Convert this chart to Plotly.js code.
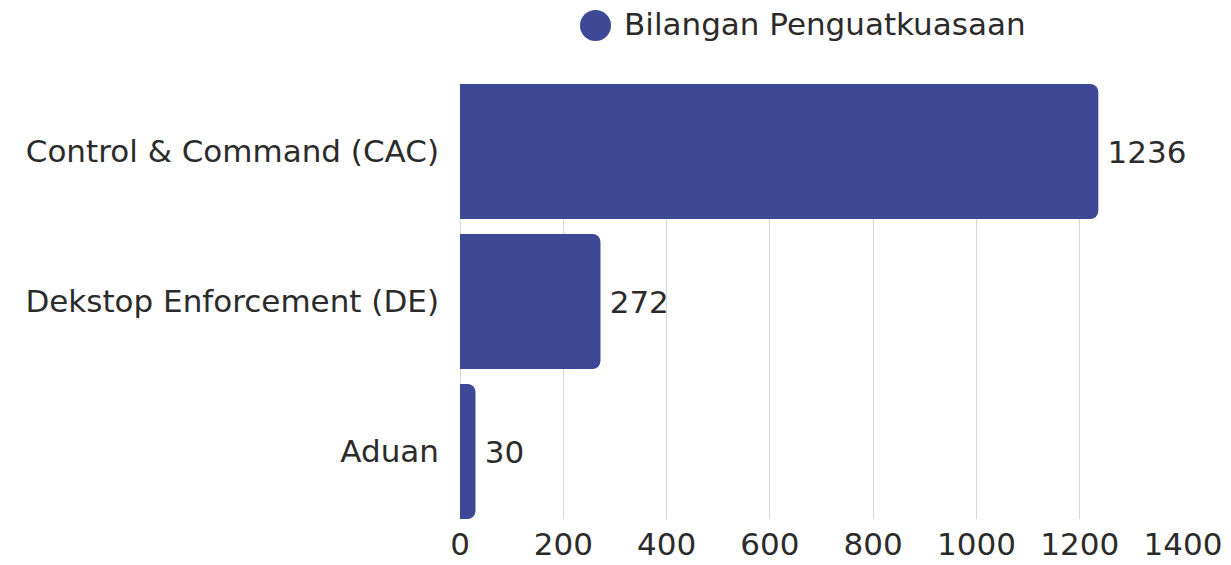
<!DOCTYPE html>
<html>
<head>
<meta charset="utf-8">
<script src="https://cdn.plot.ly/plotly-3.0.1.min.js"></script>
<style>html,body{margin:0;padding:0;background:#fff;}#chart{width:1231px;height:565px;}</style>
</head>
<body>
<div id="chart"></div>
<script>
const categories = ["Control & Command (CAC)", "Dekstop Enforcement (DE)", "Aduan"];
const values = [1236, 272, 30];
const seriesName = "Bilangan Penguatkuasaan";
const xTicks = [0, 200, 400, 600, 800, 1000, 1200, 1400];

const FONT = "DejaVu Sans, sans-serif";
const TXT = "#2b2b2b";
const BAR = "#3d4896";
const FS = 31;

const trace = {
  type: "bar",
  orientation: "h",
  y: categories,
  x: values,
  name: seriesName,
  marker: {color: BAR},
  texttemplate: "\u2009%{x}",
  textposition: "outside",
  cliponaxis: false,
  outsidetextfont: {family: FONT, size: FS, color: TXT},
  hoverinfo: "x+y",
  showlegend: false
};

const layout = {
  width: 1231, height: 565,
  margin: {l: 460, r: 48, t: 84, b: 46},
  paper_bgcolor: "#fff", plot_bgcolor: "#fff",
  font: {family: FONT, size: FS, color: TXT},
  bargap: 0.1,
  barcornerradius: 8,
  showlegend: false,
  xaxis: {
    range: [0, 1400],
    tickvals: xTicks,
    ticktext: xTicks.map(String),
    showgrid: true, gridcolor: "#d6d6d6", gridwidth: 1,
    zeroline: true, zerolinecolor: "#d6d6d6", zerolinewidth: 1,
    showline: false,
    ticks: "", ticklabelstandoff: 4,
    tickfont: {family: FONT, size: FS, color: TXT},
    fixedrange: true
  },
  yaxis: {
    range: [2.45, -0.45],
    type: "category",
    showgrid: false, zeroline: false, showline: false,
    ticks: "", ticklabelstandoff: 20,
    tickfont: {family: FONT, size: FS, color: TXT},
    fixedrange: true
  },
  shapes: [{
    type: "circle", xref: "paper", yref: "paper",
    xsizemode: "pixel", ysizemode: "pixel",
    xanchor: (595.5 - 460) / 723, yanchor: 1 + (84 - 25.5) / 435,
    x0: -15.5, x1: 15.5, y0: -15.5, y1: 15.5,
    fillcolor: BAR, line: {width: 0}
  }],
  annotations: [{
    xref: "paper", yref: "paper",
    x: (622 - 460) / 723, y: 1 + (84 - 24) / 435,
    xanchor: "left", yanchor: "middle",
    text: seriesName, showarrow: false,
    font: {family: FONT, size: FS, color: TXT}
  }]
};

Plotly.newPlot("chart", [trace], layout, {displayModeBar: false, staticPlot: true});
</script>
</body>
</html>
